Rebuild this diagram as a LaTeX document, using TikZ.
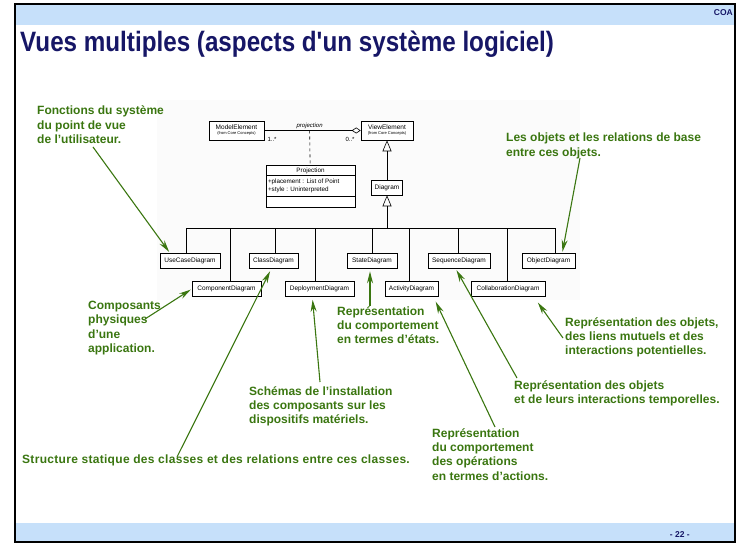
\documentclass[tikz,border=0pt]{standalone}
\usepackage{fontspec}
\setmainfont{Liberation Sans}
\newfontfamily\titlefont{Liberation Sans}
\usetikzlibrary{arrows.meta,shapes.multipart}

\definecolor{leaf}{RGB}{58,118,16}
\definecolor{navy}{RGB}{22,22,102}
\definecolor{band}{RGB}{198,224,250}

\begin{document}
\begin{tikzpicture}[x=1pt,y=-1pt,
  umlbox/.style={draw,fill=white,line width=0.6pt,inner sep=1pt,minimum height=15pt,
    font=\fontsize{6.5}{7}\selectfont},
  note/.style={anchor=north west,inner sep=0pt,align=left,text=leaf,
    font=\fontsize{12}{14.4}\selectfont\bfseries},
  pointer/.style={draw=leaf,line width=1.1pt,-{Stealth[length=12pt,width=6pt]},shorten >=1pt},
  inherit/.style={line width=0.6pt,-{Triangle[open,length=11pt,width=9pt]}}]
\useasboundingbox (0,0) rectangle (739,545);

% slide frame
\fill[band] (15,5) rectangle (735,25);
\fill[band] (15,523) rectangle (735,541);
\draw[line width=2.5pt] (15,4) rectangle (735,542);
\node[anchor=north east,inner sep=0pt,text=navy,font=\fontsize{8.5}{9}\selectfont\bfseries] (coa) at (733,9) {COA};
\node[anchor=north east,inner sep=0pt,text=navy,font=\fontsize{8.5}{9}\selectfont\bfseries] (page) at (690,531) {- 22 -};
\node[anchor=base west,inner sep=0pt,text=navy] (title) at (20,52)
  {\titlefont\fontsize{28}{28}\selectfont\bfseries\scalebox{0.865}[1]{Vues multiples (aspects d'un système logiciel)}};

% backdrop of the UML picture
\fill[gray!3] (157,100) rectangle (580,300);

% core classes
\node[umlbox,minimum width=55pt,minimum height=19pt,align=center] (model) at (236.5,130.5)
  {ModelElement\\[-2pt]{\fontsize{4}{4}\selectfont(from Core Concepts)}};
\node[umlbox,minimum width=52pt,minimum height=19pt,align=center] (view) at (387,130.5)
  {ViewElement\\[-2pt]{\fontsize{4}{4}\selectfont(from Core Concepts)}};
\draw[line width=0.6pt,-{Diamond[open,length=9pt,width=6pt]}] (model)
  -- node[pos=0.47,above=1pt,inner sep=0pt,font=\fontsize{6}{6}\selectfont\itshape] (lbl) {projection}
  coordinate[pos=0.47] (mid) (view);
\node[inner sep=0pt,font=\fontsize{6}{6}\selectfont] (m1) at (272,139) {1..*};
\node[inner sep=0pt,font=\fontsize{6}{6}\selectfont] (m2) at (350,139) {0..*};

\node[draw,fill=white,line width=0.6pt,rectangle split,rectangle split parts=3,
  rectangle split part align={center,left,left},minimum width=89pt,inner sep=2pt,
  anchor=north,font=\fontsize{6.3}{8}\selectfont] (proj) at (310.5,165)
  {Projection
   \nodepart{two}\begin{tabular}{@{}l@{}}+placement : List of Point\\+style : Uninterpreted\end{tabular}
   \nodepart{three}\rule{0pt}{6pt}};
\draw[dashed,line width=0.6pt] (mid) -- (proj);

\node[umlbox,minimum width=31pt] (diag) at (387,187.5) {Diagram};
\coordinate (bus) at (387,228);
\draw[inherit] (diag) -- (view);
\draw[inherit] (bus) -- (diag);

% the nine kinds of diagram
\foreach \n/\t/\x/\y/\w/\d in {uc/UseCaseDiagram/190/260.5/60/-4,
    comp/ComponentDiagram/226.5/289/69/3.5,
    cls/ClassDiagram/273.5/260.5/49/1.5,
    dep/DeploymentDiagram/319.5/289/69/-4.5,
    st/StateDiagram/372/260.5/50/0,
    act/ActivityDiagram/411.5/289/53/-2.5,
    seq/SequenceDiagram/459/260.5/62/-1,
    coll/CollaborationDiagram/508/289/74/-1,
    obj/ObjectDiagram/548.5/260.5/53/6.5}
{
  \node[umlbox,minimum width=\w pt] (\n) at (\x,\y) {\t};
  \draw[line width=0.6pt] ([xshift=\d pt]\n.north) |- (bus);
}

% comments in green
\node[note] (n1) at (37,106) {Fonctions du système\\du point de vue\\de l’utilisateur.};
\node[note] (n2) at (506,133) {Les objets et les relations de base\\entre ces objets.};
\node[note] (n3) at (88,301) {Composants\\physiques\\d’une\\application.};
\node[note] (n4) at (249,386) {Schémas de l’installation\\des composants sur les\\dispositifs matériels.};
\node[note] (n5) at (337,306) {Représentation\\du comportement\\en termes d’états.};
\node[note] (n6) at (22,455) {\addfontfeature{LetterSpace=2.5}Structure statique des classes et des relations entre ces classes.};
\node[note] (n7) at (432,428) {Représentation\\du comportement\\des opérations\\en termes d’actions.};
\node[note] (n8) at (514,380) {Représentation des objets\\et de leurs interactions temporelles.};
\node[note] (n9) at (565,317) {Représentation des objets,\\des liens mutuels et des\\interactions potentielles.};

\coordinate (s1) at (93,147);
\coordinate (s2) at (580,158);
\coordinate (s3) at (145,319);
\coordinate (s4) at (320,382);
\coordinate (s5) at (370,306);
\coordinate (s6) at (177,457);
\coordinate (s7) at (495,427);
\coordinate (s8) at (517,378);
\coordinate (s9) at (563,338);

\draw[pointer] (s1) -- ([xshift=10pt]uc.north west);
\draw[pointer] (s2) -- ([xshift=-13pt]obj.north east);
\draw[pointer] (s3) -- (comp.west);
\draw[pointer] (s4) -- ([xshift=-7pt,yshift=-2pt]dep.south);
\draw[pointer] (s5) -- ([xshift=-2pt,yshift=-2pt]st.south);
\draw[pointer] (s6) -- ([xshift=-3pt,yshift=-2pt]cls.south);
\draw[pointer] (s7) -- ([xshift=-3pt,yshift=-4pt]act.south east);
\draw[pointer] (s8) -- ([xshift=-3pt,yshift=-1pt]seq.south);
\draw[pointer] (s9) -- ([xshift=-8pt,yshift=-5pt]coll.south east);

\end{tikzpicture}
\end{document}
